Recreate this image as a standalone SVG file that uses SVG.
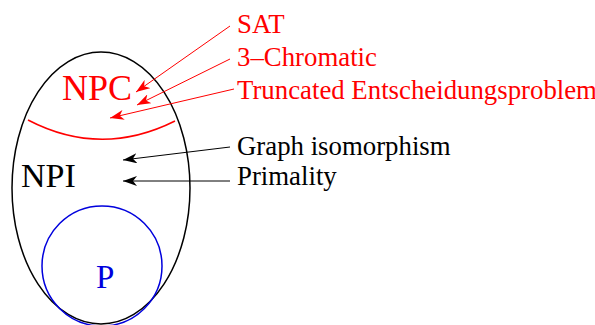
<svg xmlns="http://www.w3.org/2000/svg" width="595" height="325" viewBox="0 0 595 325">
<defs>
<marker id="ahR" markerWidth="14" markerHeight="10" refX="14" refY="5" orient="auto" markerUnits="userSpaceOnUse"><path d="M0,0 L14,5 L0,10 L4,5 z" fill="#ff0000"/></marker>
<marker id="ahK" markerWidth="14" markerHeight="10" refX="14" refY="5" orient="auto" markerUnits="userSpaceOnUse"><path d="M0,0 L14,5 L0,10 L4,5 z" fill="#000"/></marker>
</defs>
<style>
text{font-family:"Liberation Serif","Times New Roman",serif}
.lbl{font-size:26.8px}
.red{fill:#ff0000}
.blk{fill:#000}
.cr{stroke:#ff0000;stroke-width:1;fill:none}
.ck{stroke:#000;stroke-width:1;fill:none}
</style>
<rect width="595" height="325" fill="#fff"/>
<g id="NP">
<ellipse cx="101" cy="188" rx="89" ry="136" fill="none" stroke="#000" stroke-width="1.5"/>
</g>
<g id="NPC">
<path d="M28,120 Q101,158 175,121" fill="none" stroke="#ff0000" stroke-width="1.5"/>
<text x="62" y="100" font-size="36" class="red">NPC</text>
</g>
<g id="NPI">
<text x="21" y="187" font-size="34" class="blk">NPI</text>
</g>
<g id="P">
<circle cx="102" cy="266" r="60" fill="none" stroke="#0000dd" stroke-width="1.5"/>
<text x="96" y="288" font-size="33" fill="#0000dd">P</text>
</g>
<g id="labels">
<text x="237" y="33" class="lbl red">SAT</text>
<text x="237" y="66" class="lbl red">3–Chromatic</text>
<text x="237" y="99" class="lbl red">Truncated Entscheidungsproblem</text>
<text x="237" y="155" class="lbl blk">Graph isomorphism</text>
<text x="237" y="185" class="lbl blk">Primality</text>
</g>
<g id="connectors">
<line x1="230" y1="26" x2="136" y2="92" class="cr" marker-end="url(#ahR)"/>
<line x1="230" y1="59" x2="137" y2="105" class="cr" marker-end="url(#ahR)"/>
<line x1="234" y1="89" x2="110" y2="118" class="cr" marker-end="url(#ahR)"/>
<line x1="230" y1="147" x2="123" y2="160" class="ck" marker-end="url(#ahK)"/>
<line x1="230" y1="181" x2="123" y2="181" class="ck" marker-end="url(#ahK)"/>
</g>
</svg>
